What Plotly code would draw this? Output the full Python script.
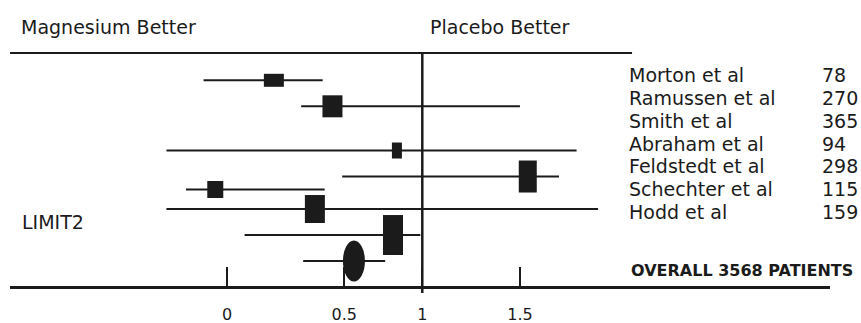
import plotly.graph_objects as go

# ---- data (axis units as drawn) ----
row_pos = [1.05, 2.05, 3.75, 4.75, 5.25, 6.0, 7.0, 8.0]
ci_low = [-0.12, 0.38, -0.31, 0.59, -0.21, -0.31, 0.09, 0.39]
ci_high = [0.49, 1.50, 1.79, 1.70, 0.50, 1.90, 0.99, 0.81]
point_est = [0.24, 0.54, 0.87, 1.54, -0.06, 0.45, 0.85, 0.65]
box_w = [20, 20, 10, 18, 16, 20, 20, 22]
box_h = [13, 22, 16, 32, 17, 28, 40, 41]
box_kind = ["rect"] * 7 + ["circle"]

study_names = ["Morton et al", "Ramussen et al", "Smith et al", "Abraham et al",
               "Feldstedt et al", "Schechter et al", "Hodd et al"]
study_n = ["78", "270", "365", "94", "298", "115", "159"]

tick_vals = [0, 0.6, 1, 1.5]
tick_text = ["0", "0.5", "1", "1.5"]

INK = "#1b1b1b"
FONT = "DejaVu Sans"

fig = go.Figure()

xs, ys = [], []
for lo, hi, r in zip(ci_low, ci_high, row_pos):
    xs += [lo, hi, None]
    ys += [r, r, None]
fig.add_trace(go.Scatter(x=xs, y=ys, mode="lines",
                         line=dict(color=INK, width=2), hoverinfo="skip",
                         showlegend=False))

shapes = []
for pe, r, w, h, k in zip(point_est, row_pos, box_w, box_h, box_kind):
    shapes.append(dict(type=k, xref="x", yref="y",
                       xsizemode="pixel", xanchor=pe, x0=-w / 2, x1=w / 2,
                       ysizemode="pixel", yanchor=r, y0=-h / 2, y1=h / 2,
                       fillcolor=INK, line=dict(width=0)))

# top rule and line of no effect
shapes.append(dict(type="line", xref="x", yref="paper", x0=-1.111, x1=2.074,
                   y0=1, y1=1, line=dict(color=INK, width=2)))
shapes.append(dict(type="line", xref="x", yref="paper", x0=1, x1=1,
                   y0=-0.03, y1=1, line=dict(color=INK, width=2.5)))

ann = []
ann.append(dict(text="Magnesium Better", xref="x", yref="paper", x=-1.065,
                y=1.112, xanchor="left", yanchor="middle", showarrow=False,
                font=dict(family=FONT, size=19, color=INK)))
ann.append(dict(text="Placebo Better", xref="x", yref="paper", x=1.029,
                y=1.112, xanchor="left", yanchor="middle", showarrow=False,
                font=dict(family=FONT, size=19, color=INK)))
for i, (nm, n) in enumerate(zip(study_names, study_n)):
    yy = 0.85 + i * 0.878
    ann.append(dict(text=nm, xref="x", yref="y", x=2.048, y=yy,
                    xanchor="left", yanchor="middle", showarrow=False,
                    font=dict(family=FONT, size=19, color=INK)))
    ann.append(dict(text=n, xref="x", yref="y", x=3.036, y=yy,
                    xanchor="left", yanchor="middle", showarrow=False,
                    font=dict(family=FONT, size=19, color=INK)))
ann.append(dict(text="LIMIT2", xref="x", yref="y", x=-1.06, y=6.5,
                xanchor="left", yanchor="middle", showarrow=False,
                font=dict(family=FONT, size=19, color=INK)))
ann.append(dict(text="<b>OVERALL 3568 PATIENTS</b>", xref="x", yref="y",
                x=2.058, y=8.35, xanchor="left", yanchor="middle",
                showarrow=False, font=dict(family=FONT, size=16, color=INK)))

fig.update_layout(
    width=861, height=323,
    margin=dict(l=10, r=31, t=53, b=37, autoexpand=False),
    paper_bgcolor="white", plot_bgcolor="white",
    shapes=shapes, annotations=ann,
    xaxis=dict(range=[-1.1111, 3.0876], showgrid=False, zeroline=False,
               showline=True, linewidth=3, linecolor=INK,
               ticks="inside", ticklen=19, tickwidth=2, tickcolor=INK,
               tickvals=tick_vals, ticktext=tick_text,
               ticklabelstandoff=12, automargin=False,
               tickfont=dict(family=FONT, size=16, color=INK)),
    yaxis=dict(range=[8.96, 0], visible=False, showgrid=False,
               zeroline=False, automargin=False),
)

fig.write_html(
    "out.html",
    config={"displayModeBar": False},
    post_script="document.body.style.margin='0';"
                "document.body.style.overflow='hidden';",
)
